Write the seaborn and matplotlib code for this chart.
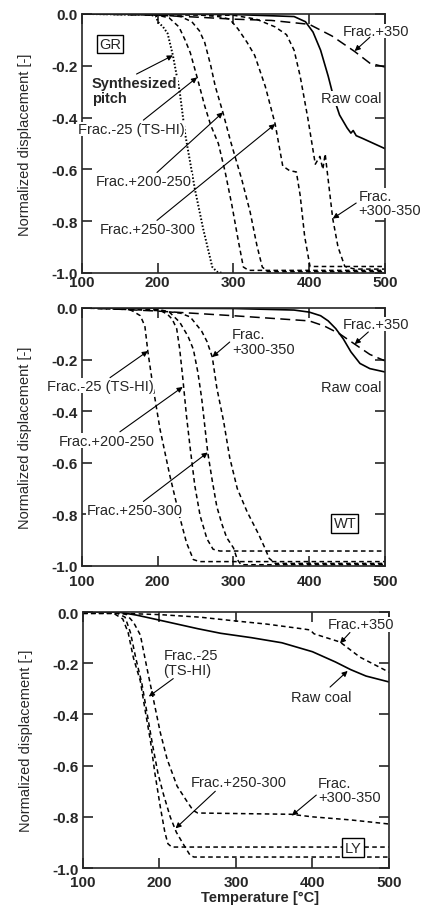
import numpy as np
import pandas as pd
import matplotlib
matplotlib.use("Agg")
import matplotlib.pyplot as plt
import seaborn as sns

sns.set_style("ticks")
plt.rcParams['font.family'] = ['Liberation Sans', 'DejaVu Sans']
plt.rcParams['axes.unicode_minus'] = False

# ---------------- GR panel ----------------
gr_pitch_t = [100, 190, 198, 200, 207, 213, 220, 229, 236, 249, 260, 272, 278, 285]
gr_pitch_y = [0, -0.003, -0.01, -0.03, -0.05, -0.075, -0.16, -0.30, -0.46, -0.676, -0.83, -0.977, -0.995, -1.0]

gr_m25_t = [100, 180, 200, 215, 228, 236, 243, 252, 262, 270, 280, 289, 298, 306, 313, 320, 500]
gr_m25_y = [0, 0, -0.005, -0.015, -0.05, -0.1, -0.15, -0.245, -0.355, -0.43, -0.5, -0.61, -0.74, -0.87, -0.977, -0.99, -0.99]

gr_200_t = [100, 200, 230, 245, 255, 262, 270, 276, 286, 296, 311, 322, 331, 338, 345, 500]
gr_200_y = [0, -0.003, -0.01, -0.03, -0.065, -0.11, -0.2, -0.28, -0.38, -0.49, -0.64, -0.765, -0.895, -0.977, -0.995, -0.995]

gr_250_t = [100, 250, 280, 295, 306, 318, 328, 342, 355, 365, 374, 383, 388, 394, 401, 500]
gr_250_y = [0, -0.003, -0.01, -0.02, -0.058, -0.11, -0.16, -0.28, -0.425, -0.587, -0.605, -0.61, -0.70, -0.86, -0.975, -0.975]

gr_300_t = [100, 300, 330, 355, 370, 380, 388, 398, 408, 414, 418, 421, 425, 431, 438, 447, 460, 500]
gr_300_y = [0, -0.005, -0.02, -0.05, -0.08, -0.14, -0.24, -0.40, -0.58, -0.55, -0.6, -0.54, -0.64, -0.79, -0.9, -0.975, -0.985, -0.985]

gr_350_t = [100, 200, 250, 300, 350, 400, 430, 460, 480, 500]
gr_350_y = [0, -0.005, -0.012, -0.02, -0.025, -0.04, -0.085, -0.145, -0.19, -0.205]

gr_raw_t = [100, 300, 380, 395, 405, 415, 425, 432, 440, 450, 455, 458, 462, 470, 485, 500]
gr_raw_y = [0, -0.002, -0.01, -0.03, -0.07, -0.14, -0.24, -0.32, -0.39, -0.44, -0.46, -0.45, -0.47, -0.48, -0.50, -0.52]

# ---------------- WT panel ----------------
wt_m25_t = [100, 150, 160, 167, 177, 183, 187, 194, 203, 216, 229, 238, 247, 255, 500]
wt_m25_y = [0, 0, -0.003, -0.012, -0.03, -0.07, -0.17, -0.31, -0.47, -0.65, -0.81, -0.91, -0.975, -0.983, -0.983]

wt_200_t = [100, 190, 205, 213, 219, 225, 229, 233, 238, 243, 249, 256, 265, 273, 282, 500]
wt_200_y = [0, -0.003, -0.012, -0.025, -0.043, -0.08, -0.16, -0.27, -0.42, -0.547, -0.69, -0.806, -0.895, -0.935, -0.942, -0.942]

wt_250_t = [100, 200, 215, 229, 240, 247, 253, 258, 266, 272, 278, 285, 291, 300, 305, 310, 500]
wt_250_y = [0, -0.005, -0.015, -0.055, -0.11, -0.16, -0.25, -0.35, -0.56, -0.67, -0.77, -0.84, -0.89, -0.93, -0.975, -0.995, -0.995]

wt_300_t = [100, 200, 230, 243, 258, 265, 272, 278, 287, 295, 305, 318, 333, 342, 347, 355, 500]
wt_300_y = [0, -0.01, -0.02, -0.035, -0.09, -0.13, -0.19, -0.31, -0.44, -0.58, -0.70, -0.79, -0.876, -0.934, -0.97, -0.99, -0.99]

wt_350_t = [100, 150, 200, 300, 350, 400, 420, 440, 460, 480, 500]
wt_350_y = [0, -0.005, -0.012, -0.03, -0.04, -0.05, -0.07, -0.1, -0.14, -0.18, -0.205]

wt_raw_t = [100, 300, 380, 400, 415, 425, 435, 445, 455, 467, 480, 500]
wt_raw_y = [0, -0.002, -0.008, -0.016, -0.03, -0.05, -0.08, -0.12, -0.17, -0.215, -0.235, -0.248]

# ---------------- LY panel ----------------
ly_m25_t = [100, 140, 152, 159, 166, 175, 181, 188, 194, 201, 207, 211, 216, 500]
ly_m25_y = [-0.005, -0.005, -0.027, -0.08, -0.18, -0.27, -0.38, -0.5, -0.63, -0.76, -0.86, -0.905, -0.918, -0.918]

ly_250_t = [100, 145, 155, 162, 169, 177, 184, 191, 198, 205, 214, 222, 231, 240, 245, 500]
ly_250_y = [-0.005, -0.005, -0.02, -0.08, -0.18, -0.28, -0.40, -0.52, -0.63, -0.71, -0.80, -0.86, -0.906, -0.95, -0.957, -0.957]

ly_300_t = [100, 150, 157, 166, 175, 183, 192, 201, 210, 223, 236, 244, 250, 372, 400, 450, 500]
ly_300_y = [-0.005, -0.005, -0.01, -0.04, -0.09, -0.21, -0.34, -0.47, -0.575, -0.68, -0.74, -0.775, -0.785, -0.79, -0.80, -0.812, -0.828]

ly_350_t = [100, 150, 200, 253, 300, 340, 388, 397, 402, 436, 462, 497, 500]
ly_350_y = [-0.005, -0.005, -0.01, -0.02, -0.035, -0.047, -0.066, -0.07, -0.085, -0.117, -0.176, -0.23, -0.235]

ly_raw_t = [100, 145, 150, 170, 190, 220, 250, 280, 320, 360, 400, 430, 450, 470, 500]
ly_raw_y = [0, 0, -0.002, -0.012, -0.025, -0.045, -0.065, -0.083, -0.1, -0.12, -0.155, -0.195, -0.225, -0.25, -0.273]

# tick labels
x_ticks = [100, 200, 300, 400, 500]
y_ticks = [0.0, -0.2, -0.4, -0.6, -0.8, -1.0]

SHORT = (0, (3, 2.2))
LONG = (0, (6.5, 3.5))
DOT = (0, (0.8, 1.0))


def curve(ax, t, y, ls, lw=1.1):
    df = pd.DataFrame({'T': t, 'd': y})
    sns.lineplot(data=df, x='T', y='d', ax=ax, color='k', linewidth=lw,
                 linestyle=ls, sort=False, estimator=None, zorder=2)


def label(ax, x, y, s, ha='center', weight='normal'):
    ax.text(x, y, s, ha=ha, va='center', fontsize=10.5, fontweight=weight,
            linespacing=1.05, zorder=5, clip_on=False,
            bbox=dict(fc='white', ec='none', pad=0.3))


def arrow(ax, tail, tip):
    ax.annotate('', xy=tip, xytext=tail, zorder=6,
                arrowprops=dict(arrowstyle='-|>', color='k', lw=0.8,
                                mutation_scale=8, shrinkA=0, shrinkB=0))


def box(ax, x, y, s):
    ax.text(x, y, s, ha='center', va='center', fontsize=10.5, zorder=7,
            bbox=dict(boxstyle='square,pad=0.15', fc='white', ec='k', lw=1.0))


def style_axes(ax, xpad):
    ax.set_xlim(100, 500)
    ax.set_ylim(-1.0, 0.0)
    ax.set_xticks(x_ticks)
    ax.set_yticks(y_ticks)
    ax.set_xticklabels([str(v) for v in x_ticks])
    ax.set_yticklabels(['%.1f' % v for v in y_ticks])
    ax.tick_params(direction='in', length=7, width=1.2, top=True, right=True,
                   labelsize=11)
    ax.tick_params(axis='x', pad=xpad)
    ax.tick_params(axis='y', pad=3)
    for lab in ax.get_xticklabels() + ax.get_yticklabels():
        lab.set_fontweight('bold')
    for sp in ax.spines.values():
        sp.set_linewidth(1.2)
        sp.set_visible(True)
    ax.set_xlabel('')
    ax.set_ylabel('Normalized displacement [-]', fontsize=10.5)
    ax.yaxis.set_label_coords(-0.165, 0.5)


fig = plt.figure(figsize=(4.22, 9.12), dpi=100)
ax1 = fig.add_axes([0.1943, 0.6996, 0.718, 0.284])
ax2 = fig.add_axes([0.1943, 0.3783, 0.718, 0.2829])
ax3 = fig.add_axes([0.1967, 0.0471, 0.725, 0.2807])

# GR
curve(ax1, gr_pitch_t, gr_pitch_y, DOT, lw=1.4)
curve(ax1, gr_m25_t, gr_m25_y, SHORT)
curve(ax1, gr_200_t, gr_200_y, SHORT)
curve(ax1, gr_250_t, gr_250_y, SHORT)
curve(ax1, gr_300_t, gr_300_y, SHORT)
curve(ax1, gr_350_t, gr_350_y, LONG)
curve(ax1, gr_raw_t, gr_raw_y, '-', lw=1.2)
style_axes(ax1, 1.5)
box(ax1, 137, -0.116, 'GR')
label(ax1, 113, -0.295, 'Synthesized\npitch', ha='left', weight='bold')
arrow(ax1, (172, -0.232), (220, -0.16))
label(ax1, 165, -0.444, 'Frac.-25 (TS-HI)')
arrow(ax1, (181, -0.41), (252, -0.245))
label(ax1, 181, -0.645, 'Frac.+200-250')
arrow(ax1, (199, -0.612), (286, -0.38))
label(ax1, 187, -0.83, 'Frac.+250-300')
arrow(ax1, (199, -0.797), (355, -0.425))
label(ax1, 488, -0.066, 'Frac.+350')
arrow(ax1, (480, -0.09), (460, -0.143))
label(ax1, 456, -0.325, 'Raw coal')
label(ax1, 465, -0.73, 'Frac.\n+300-350', ha='left')
arrow(ax1, (462, -0.73), (431, -0.79))

# WT
curve(ax2, wt_m25_t, wt_m25_y, SHORT)
curve(ax2, wt_200_t, wt_200_y, SHORT)
curve(ax2, wt_250_t, wt_250_y, SHORT)
curve(ax2, wt_300_t, wt_300_y, SHORT)
curve(ax2, wt_350_t, wt_350_y, LONG)
curve(ax2, wt_raw_t, wt_raw_y, '-', lw=1.2)
style_axes(ax2, 6)
box(ax2, 447, -0.835, 'WT')
label(ax2, 124, -0.302, 'Frac.-25 (TS-HI)')
arrow(ax2, (137, -0.27), (187, -0.167))
label(ax2, 133, -0.515, 'Frac.+200-250')
arrow(ax2, (150, -0.48), (233, -0.306))
label(ax2, 169, -0.783, 'Frac.+250-300')
arrow(ax2, (181, -0.75), (266, -0.56))
label(ax2, 298, -0.13, 'Frac.\n+300-350', ha='left')
arrow(ax2, (295, -0.132), (272, -0.19))
label(ax2, 488, -0.062, 'Frac.+350')
arrow(ax2, (478, -0.093), (460, -0.14))
label(ax2, 455, -0.306, 'Raw coal')

# LY
curve(ax3, ly_m25_t, ly_m25_y, SHORT)
curve(ax3, ly_250_t, ly_250_y, SHORT)
curve(ax3, ly_300_t, ly_300_y, SHORT)
curve(ax3, ly_350_t, ly_350_y, SHORT)
curve(ax3, ly_raw_t, ly_raw_y, '-', lw=1.2)
style_axes(ax3, 5)
box(ax3, 453, -0.92, 'LY')
label(ax3, 205, -0.197, 'Frac.-25\n(TS-HI)', ha='left')
arrow(ax3, (218, -0.26), (186, -0.33))
label(ax3, 304, -0.664, 'Frac.+250-300')
arrow(ax3, (273, -0.70), (221, -0.845))
label(ax3, 407, -0.695, 'Frac.\n+300-350', ha='left')
arrow(ax3, (405, -0.715), (373, -0.795))
label(ax3, 463, -0.047, 'Frac.+350')
arrow(ax3, (449, -0.08), (436, -0.122))
label(ax3, 411, -0.332, 'Raw coal')
arrow(ax3, (423, -0.293), (446, -0.23))
ax3.set_xlabel('Temperature [°C]', fontsize=10.5, fontweight='bold')
ax3.xaxis.set_label_coords(0.58, -0.115)
ax3.xaxis.label.set_va('center')

fig.savefig("out.png", dpi=100)
